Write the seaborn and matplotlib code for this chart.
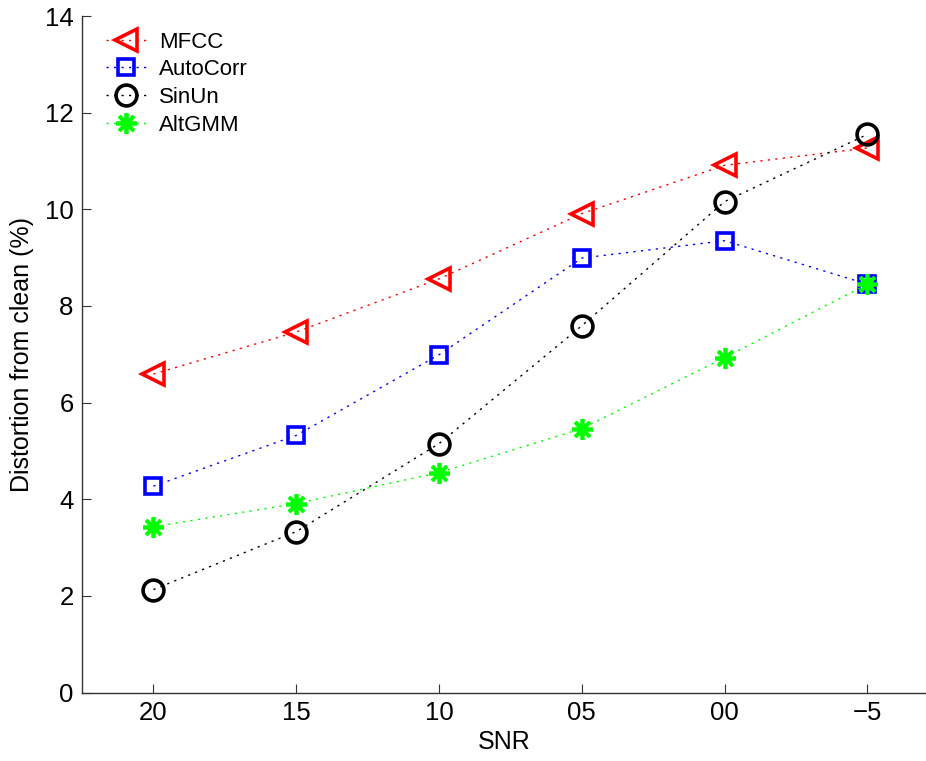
import matplotlib
matplotlib.use("Agg")
import matplotlib.pyplot as plt
import seaborn as sns
import pandas as pd

# SNR levels (dB) and distortion values per feature type
snr_labels = ["20", "15", "10", "05", "00", "\u22125"]
mfcc = [6.59, 7.46, 8.56, 9.91, 10.91, 11.27]
autocorr = [4.27, 5.32, 6.99, 8.99, 9.35, 8.45]
sinun = [2.13, 3.33, 5.15, 7.59, 10.16, 11.55]
altgmm = [3.43, 3.91, 4.55, 5.46, 6.93, 8.45]

series = [
    ("MFCC", mfcc, "#ff0000", "<", 16, "none", 2.6),
    ("AutoCorr", autocorr, "#0000ff", "s", 12, "none", 2.6),
    ("SinUn", sinun, "#000000", "o", 15, "none", 2.6),
    ("AltGMM", altgmm, "#00ff00", (8, 2, 0), 15, "#00ff00", 2.7),
]

sns.set_style("white")
plt.rcParams["font.family"] = ["Liberation Sans", "DejaVu Sans"]
plt.rcParams["text.color"] = "black"
plt.rcParams["axes.labelcolor"] = "black"

fig = plt.figure(figsize=(9.26, 7.61), dpi=100)
ax = fig.add_axes([82 / 926, 1 - 692.5 / 761, 1 - 82 / 926, (692.5 - 16) / 761])

for name, vals, color, marker, ms, fc, mew in series:
    df = pd.DataFrame({"SNR": snr_labels, "val": vals})
    sns.lineplot(
        data=df, x="SNR", y="val", ax=ax, sort=False,
        color=color, linewidth=1.0, dashes=False, label=name,
        marker=marker, markersize=ms, markeredgewidth=mew,
        markeredgecolor=color, markerfacecolor=fc,
    )

for line in ax.get_lines():
    line.set_dashes((1.6, 3.8))

ax.set_xlim(-0.5, 5.41)
ax.set_ylim(0, 14)
ax.set_yticks(range(0, 15, 2))
ax.set_xlabel("SNR", fontsize=18, color="black")
ax.set_ylabel("Distortion from clean (%)", fontsize=18, color="black", labelpad=8)
ax.tick_params(axis="both", direction="in", length=6.5, width=0.8,
               labelsize=18.5, color="#333333", labelcolor="black",
               pad=6, left=True, bottom=True)
for side in ("top", "right"):
    ax.spines[side].set_visible(False)
for side in ("left", "bottom"):
    ax.spines[side].set_color("#333333")
    ax.spines[side].set_linewidth(1.0)

leg = ax.legend(loc="upper left", bbox_to_anchor=(0.01, 1.0), frameon=False,
                fontsize=16, handlelength=1.8, handletextpad=0.6,
                labelspacing=0.3, borderaxespad=0.3)
for h in leg.get_lines():
    h.set_dashes((1.6, 3.8))
for t in leg.get_texts():
    t.set_color("black")

fig.savefig("out.png", dpi=100)
